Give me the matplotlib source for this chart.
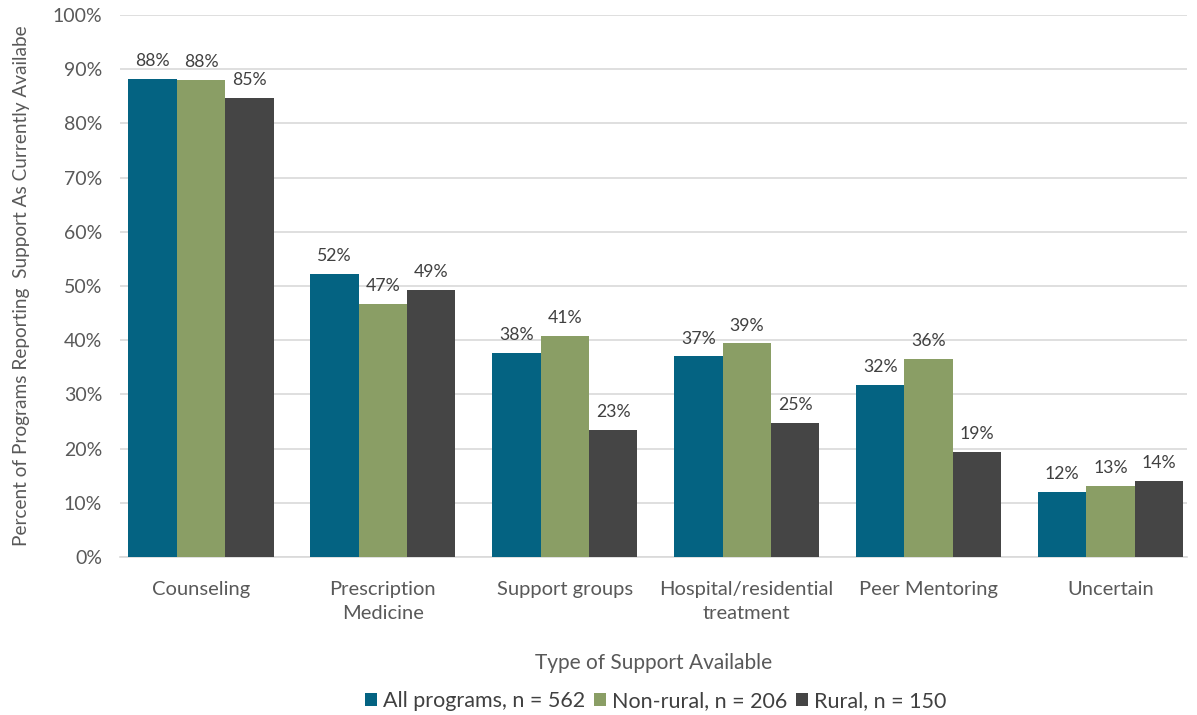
import numpy as np
import matplotlib.pyplot as plt
from matplotlib.ticker import PercentFormatter

plt.rcParams['font.family'] = ['Lato', 'DejaVu Sans']

categories = ['Counseling', 'Prescription\nMedicine', 'Support groups',
              'Hospital/residential\ntreatment', 'Peer Mentoring', 'Uncertain']
all_programs = [88.2, 52.3, 37.6, 37.0, 31.7, 12.0]
non_rural = [88.0, 46.7, 40.8, 39.4, 36.5, 13.1]
rural = [84.7, 49.3, 23.4, 24.7, 19.4, 14.1]
series_names = ['All programs, n = 562', 'Non-rural, n = 206', 'Rural, n = 150']
colors = ['#046382', '#8a9e65', '#454545']

fig = plt.figure(figsize=(11.97, 7.15), dpi=100)
ax = fig.add_axes([0.1003, 0.221, 0.8913, 0.758])

ind = np.arange(len(categories))
width = 0.266
txt = '#404040'
for i, (vals, name, c) in enumerate(zip([all_programs, non_rural, rural], series_names, colors)):
	bars = ax.bar(ind + (i - 1) * width, vals, width, color=c, label=name, zorder=3)
	for b, v in zip(bars, vals):
		ax.text(b.get_x() + b.get_width() / 2, v + 1.8, '%d%%' % round(v),
			ha='center', va='bottom', fontsize=12.7, color=txt)

ax.set_ylim(0, 100)
ax.set_xlim(-0.445, 5.42)
ax.set_yticks(np.arange(0, 101, 10))
ax.yaxis.set_major_formatter(PercentFormatter(decimals=0))
ax.grid(axis='y', color='#d9d9d9', linewidth=1.2, zorder=0)
for s in ['top', 'right', 'left']:
	ax.spines[s].set_visible(False)
ax.spines['bottom'].set_color('#d9d9d9')
ax.spines['bottom'].set_linewidth(1.2)
ax.tick_params(length=0, labelsize=14, labelcolor='#595959')
ax.tick_params(axis='y', pad=13)
ax.tick_params(axis='x', pad=17)
ax.set_xticks(ind)
ax.set_xticklabels(categories, linespacing=1.55, fontsize=14.5)

ax.set_ylabel('Percent of Programs Reporting  Support As Currently Availabe',
	fontsize=13.7, color='#595959', labelpad=16)
ax.set_xlabel('Type of Support Available', fontsize=15, color='#595959', labelpad=22)

ax.legend(loc='lower center', bbox_to_anchor=(0.502, -0.32), ncol=3, frameon=False,
	fontsize=15.5, handlelength=0.55, handleheight=0.6, handletextpad=0.3,
	columnspacing=0.4, labelcolor='#404040')

plt.savefig('out.png', dpi=100)
